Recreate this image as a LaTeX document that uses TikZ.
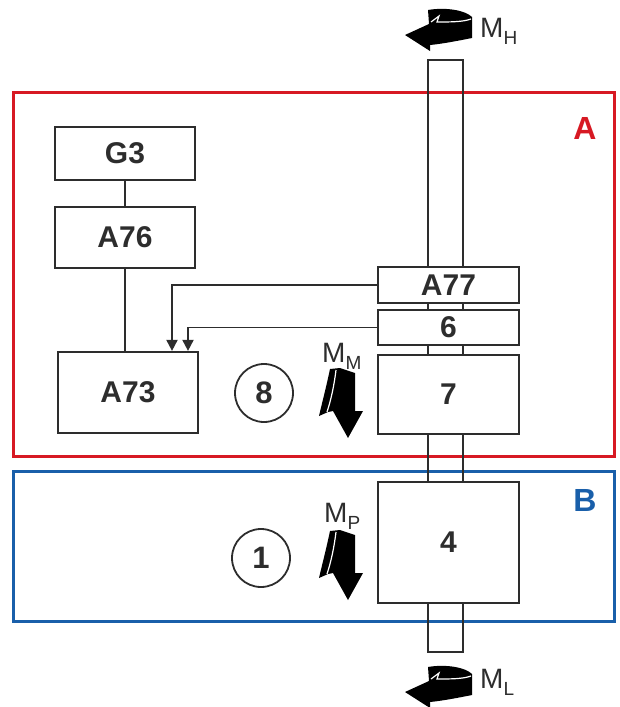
\documentclass[tikz,border=0pt]{standalone}
\usepackage{fontspec}
\setmainfont{Liberation Sans}
\usetikzlibrary{arrows.meta}
\definecolor{zoneA}{RGB}{215,25,35}
\definecolor{zoneB}{RGB}{25,95,170}
\definecolor{ink}{RGB}{45,45,45}
\newcommand{\msub}[1]{M\raisebox{-7pt}{\fontsize{19}{19}\selectfont #1}}
\tikzset{
  blk/.style={draw=ink, line width=2.2pt, fill=white, inner sep=0pt, text=ink,
    font=\fontsize{30}{32}\selectfont\bfseries},
  lnk/.style={draw=ink, line width=1.8pt},
  sig/.style={lnk, -{Triangle[length=11pt,width=11pt]}},
  ring/.style={circle, draw=ink, line width=1.8pt, minimum size=58pt, inner sep=0pt,
    text=ink, font=\fontsize{31}{33}\selectfont\bfseries},
  mom/.style={inner sep=0pt, text=ink, font=\fontsize{28}{30}\selectfont},
  zone/.style={line width=3pt},
  zonetag/.style={inner sep=0pt, font=\fontsize{32}{34}\selectfont\bfseries},
  torqueh/.pic={
    \fill[black] (0,0) -- (24,-11) -- (23,-25) .. controls (40,-28) and (60,-25) .. (67,-18)
      -- (67,3) .. controls (52,6) and (36,9) .. (25,10) -- (25,16) -- cycle;
    \draw[white, line width=1.2pt] (26,-13) -- (34,-19) -- (32,-13) .. controls (45,-13) and (58,-13) .. (66,-16);
  },
  torquev/.pic={
    \fill[black] (0,0) -- (15,-27) -- (7,-27) -- (7,-65) -- (-8,-70) -- (-18,-69)
      .. controls (-22,-50) and (-26,-35) .. (-29,-22) -- (-20,-26) -- (-15,-27) -- cycle;
    \draw[white, line width=1.2pt] (-12,-68) .. controls (-14,-52) and (-17,-38) .. (-21,-26);
  }
}
\begin{document}
\begin{tikzpicture}[x=1pt,y=-1pt]
  \useasboundingbox (0,0) rectangle (620,707);

  \draw[zone, zoneA] (13,92) rectangle (614,456);
  \draw[zone, zoneB] (13,471) rectangle (614,621);
  \node[zonetag, text=zoneA] (tagA) at (585,128) {A};
  \node[zonetag, text=zoneB] (tagB) at (585,500) {B};

  \node[lnk, inner sep=0pt, minimum width=35pt, minimum height=592pt] (shaft) at (445.5,356) {};

  \node[blk, minimum width=140pt, minimum height=53pt] (g3) at (125,153.5) {G3};
  \node[blk, minimum width=140pt, minimum height=61pt] (a76) at (125,237.5) {A76};
  \node[blk, minimum width=140pt, minimum height=81pt] (a73) at (128,392.5) {A73};
  \node[blk, minimum width=141pt, minimum height=36pt] (a77) at (448.5,285) {A77};
  \node[blk, minimum width=141pt, minimum height=35pt] (six) at (448.5,327.5) {6};
  \node[blk, minimum width=141pt, minimum height=79pt] (seven) at (448.5,394.5) {7};
  \node[blk, minimum width=141pt, minimum height=121pt] (four) at (448.5,542.5) {4};

  \draw[lnk] (g3) -- (a76);
  \draw[lnk] (a76) -- (a76 |- a73.north);
  \draw[sig] (a77.west) -| ([xshift=44pt]a73.north);
  \draw[sig] (six.west) -| ([xshift=60pt]a73.north);

  \node[ring] (eight) at (264,393) {8};
  \node[ring] (one) at (261,558) {1};

  \pic at (405,35) {torqueh};
  \pic at (405,692) {torqueh};
  \pic at (348,438) {torquev};
  \pic at (348,600) {torquev};

  \node[mom, anchor=base west] (mh) at (480,37) {\msub{H}};
  \node[mom, anchor=base west] (ml) at (480,688) {\msub{L}};
  \node[mom, anchor=base west] (mm) at (322,362) {\msub{M}};
  \node[mom, anchor=base west] (mp) at (324,522) {\msub{P}};
\end{tikzpicture}
\end{document}
